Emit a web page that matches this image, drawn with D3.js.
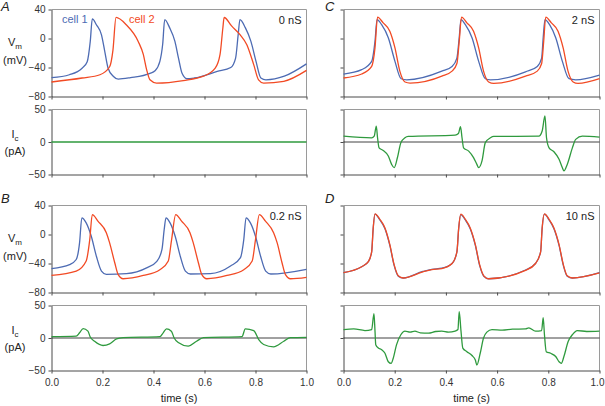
<!DOCTYPE html>
<html><head><meta charset="utf-8">
<script src="https://cdn.jsdelivr.net/npm/d3@7"></script>
<style>body{margin:0;background:#fff} svg text{font-family:"Liberation Sans",Arial,sans-serif}</style>
</head><body><svg id="c" width="605" height="406"></svg>
<script>
// ---- data (time in s, Vm in mV, Ic in pA) ----
const timeTicks = [0, 0.2, 0.4, 0.6, 0.8, 1.0];
const vmTicks = [-80, -40, 0, 40];
const icTicks = [-50, 0, 50];
const panelLetters = ["A", "B", "C", "D"];
const conductances = ["0 nS", "0.2 nS", "2 nS", "10 nS"];
const cellNames = ["cell 1", "cell 2"];

const vmA1 = [[0,-54],[0.07,-50],[0.12,-41],[0.14,-32],[0.152,-4],[0.16,27],[0.176,19],[0.196,5],[0.209,-18],[0.222,-41],[0.242,-52],[0.262,-56],[0.31,-54],[0.386,-48],[0.406,-44.5],[0.425,-31.5],[0.436,-8],[0.444,26],[0.463,15],[0.484,-4],[0.498,-27],[0.512,-48],[0.531,-55.5],[0.56,-54.5],[0.65,-45.5],[0.703,-40],[0.722,-27],[0.732,5],[0.739,26],[0.76,15],[0.782,-4],[0.802,-31.5],[0.821,-54.5],[0.841,-57],[0.913,-52],[1.0,-35]];
const vmA2 = [[0,-60],[0.12,-54.5],[0.19,-50],[0.228,-39],[0.241,-16],[0.253,29],[0.293,19],[0.34,-4],[0.36,-22],[0.373,-43],[0.386,-57],[0.412,-61.5],[0.517,-58],[0.596,-52],[0.642,-41],[0.661,-22],[0.672,14.5],[0.677,29],[0.707,17],[0.74,5],[0.766,-8.5],[0.793,-36],[0.812,-57],[0.832,-61.5],[0.911,-59],[1.0,-44]];
const icA = [[0,0],[0.25,0],[0.5,0],[0.75,0],[1.0,0]];

const vmB1 = [[0,-47],[0.071,-41.5],[0.097,-34.5],[0.11,-11.5],[0.119,23],[0.136,16],[0.156,-2.5],[0.176,-30],[0.196,-50.5],[0.215,-55],[0.294,-54],[0.373,-46],[0.413,-37],[0.433,-21],[0.442,7],[0.449,23],[0.465,16],[0.485,-2.5],[0.505,-30],[0.525,-50.5],[0.545,-54.5],[0.623,-54],[0.702,-43.5],[0.741,-32],[0.754,-7],[0.763,23],[0.78,16],[0.8,-2.5],[0.82,-30],[0.84,-50.5],[0.86,-54.5],[1.0,-48]];
const vmB2 = [[0,-56.5],[0.097,-50.5],[0.136,-36.5],[0.15,-7],[0.16,27.5],[0.182,18.5],[0.215,2.5],[0.228,-11.5],[0.248,-39],[0.261,-55],[0.281,-61],[0.36,-56.5],[0.425,-48.5],[0.458,-36.5],[0.471,-7],[0.487,27.5],[0.51,18.5],[0.543,2.5],[0.556,-11.5],[0.576,-39],[0.589,-55],[0.609,-61],[0.688,-56.5],[0.754,-48.5],[0.787,-36.5],[0.8,-7],[0.815,27.5],[0.839,18.5],[0.871,2.5],[0.885,-11.5],[0.904,-39],[0.917,-55],[0.937,-61],[1.0,-59]];
const icB = [[0,2],[0.097,2.8],[0.11,8],[0.124,14.5],[0.143,10.5],[0.152,1.5],[0.169,-5],[0.202,-11.5],[0.228,-9],[0.255,-1.5],[0.281,0.5],[0.425,2],[0.438,8],[0.451,14],[0.47,10.5],[0.481,0],[0.497,-7],[0.536,-12.5],[0.569,-5],[0.596,0.5],[0.747,2],[0.76,14],[0.793,11.5],[0.812,-2],[0.832,-10],[0.871,-13.5],[0.911,-5],[0.937,0.5],[1.0,1]];

const vmC1 = [[0,-49],[0.071,-43],[0.11,-31.5],[0.123,-4],[0.131,26],[0.149,19],[0.175,1],[0.201,-31.5],[0.225,-55.5],[0.247,-57],[0.384,-45],[0.424,-38.5],[0.443,-27],[0.452,1],[0.459,26],[0.476,19],[0.502,1],[0.528,-31.5],[0.554,-55.5],[0.574,-57],[0.711,-46],[0.757,-38.5],[0.774,-27],[0.78,1],[0.787,26],[0.805,19],[0.829,1],[0.855,-31.5],[0.881,-55.5],[0.907,-57],[1.0,-50.5]];
const vmC2 = [[0,-54.5],[0.071,-49],[0.11,-38.5],[0.123,-13],[0.133,29.5],[0.155,21.5],[0.181,10],[0.201,-13],[0.22,-45],[0.24,-60],[0.26,-61.5],[0.384,-52],[0.424,-45],[0.443,-34.5],[0.452,-4],[0.461,29.5],[0.482,21.5],[0.508,10],[0.528,-13],[0.547,-45],[0.567,-60],[0.587,-62],[0.711,-52],[0.757,-45],[0.774,-34.5],[0.782,-4],[0.79,29.5],[0.812,21.5],[0.838,10],[0.858,-13],[0.877,-45],[0.897,-60],[0.916,-62],[1.0,-55.5]];
const icC = [[0,9],[0.11,6.5],[0.12,9],[0.128,24.5],[0.133,6.5],[0.139,-9],[0.155,-13],[0.175,-21.5],[0.188,-34.5],[0.198,-39.5],[0.211,-23.5],[0.224,-1],[0.24,6.5],[0.253,8.5],[0.436,10.5],[0.449,13],[0.457,23.5],[0.463,6.5],[0.469,-9],[0.489,-14],[0.508,-24],[0.521,-34.5],[0.528,-39.5],[0.541,-29],[0.554,-1],[0.574,6.5],[0.587,8.5],[0.763,9],[0.776,17],[0.787,40],[0.793,6.5],[0.803,-9],[0.822,-15],[0.842,-26.5],[0.855,-39.5],[0.861,-44.5],[0.874,-34.5],[0.894,-9],[0.907,4],[0.933,9],[1.0,7.5]];

const vmD1 = [[0,-52.5],[0.071,-44.5],[0.097,-37.5],[0.11,-24],[0.116,8.5],[0.123,28],[0.142,20],[0.162,8],[0.181,-15],[0.198,-43],[0.214,-57.5],[0.233,-60],[0.31,-51],[0.345,-48],[0.384,-46.5],[0.424,-40],[0.443,-24],[0.45,8.5],[0.458,27.5],[0.476,20],[0.495,8],[0.515,-15],[0.532,-43],[0.548,-57.5],[0.567,-61],[0.711,-49],[0.75,-40],[0.77,-24],[0.776,8.5],[0.785,28],[0.803,20],[0.822,8],[0.842,-15],[0.859,-43],[0.874,-57.5],[0.894,-60],[1.0,-52.5]];
const vmD2 = [[0,-52.5],[0.071,-44.5],[0.097,-37.5],[0.11,-24],[0.116,9],[0.123,28.5],[0.142,21],[0.162,9],[0.181,-14],[0.198,-42],[0.214,-57],[0.233,-60],[0.31,-51.5],[0.345,-48.5],[0.384,-47],[0.424,-40],[0.443,-24],[0.45,9],[0.458,28],[0.476,21],[0.495,9],[0.515,-14],[0.532,-42],[0.548,-57],[0.567,-61],[0.711,-49.5],[0.75,-40],[0.77,-24],[0.776,9],[0.785,28.5],[0.803,21],[0.822,9],[0.842,-14],[0.859,-42],[0.874,-57],[0.894,-60],[1.0,-53]];
const icD = [[0,13],[0.04,14],[0.084,11.5],[0.11,13],[0.119,37.5],[0.123,11],[0.126,-10.5],[0.136,-15.5],[0.149,-18],[0.162,-23.5],[0.175,-36.5],[0.186,-39],[0.194,-31.5],[0.207,-10.5],[0.224,5],[0.24,10.5],[0.26,9],[0.279,10.5],[0.3,8],[0.332,7.5],[0.36,10],[0.384,10.5],[0.41,9],[0.436,10.5],[0.447,13],[0.452,40.5],[0.459,10.5],[0.466,-15.5],[0.482,-21],[0.502,-27],[0.515,-34],[0.521,-41.5],[0.534,-23.5],[0.547,0],[0.56,9],[0.58,13],[0.62,12],[0.66,13.5],[0.711,14],[0.724,15.5],[0.75,10.5],[0.774,11.5],[0.78,31.5],[0.785,5],[0.792,-21],[0.809,-23.5],[0.829,-28.5],[0.842,-36.5],[0.851,-39],[0.861,-28.5],[0.878,-5],[0.894,5],[0.913,11.5],[0.95,10],[1.0,10.5]];

// ---- layout / style ----
const C_BLUE = "#4d6bb3", C_RED = "#f24a24", C_GREEN = "#2f9a3e";
const AXIS = "#4a4a4a", BOX = "#9a9a9a", TXT = "#333";
const cols = [[51.5, 306.5], [343.5, 599.5]];
const rows = [{vm: [9.5, 96.5], ic: [109.5, 174.5]}, {vm: [205.5, 292.5], ic: [305.5, 370.5]}];
const panels = [
  {col: 0, row: 0, v1: vmA1, v2: vmA2, ic: icA, zero: false},
  {col: 0, row: 1, v1: vmB1, v2: vmB2, ic: icB, zero: true},
  {col: 1, row: 0, v1: vmC1, v2: vmC2, ic: icC, zero: true},
  {col: 1, row: 1, v1: vmD1, v2: vmD2, ic: icD, zero: true}
];

const svg = d3.select("#c");

function frame(g, x, y, yTicks, showY, showX, lastShift) {
  const [x0, x1] = x.range();
  const [yb, yt] = y.range();
  g.append("line").attr("x1", x0).attr("x2", x1).attr("y1", yt).attr("y2", yt).attr("stroke", BOX);
  g.append("line").attr("x1", x1).attr("x2", x1).attr("y1", yt).attr("y2", yb).attr("stroke", BOX);
  const ya = g.append("g").attr("transform", `translate(${x0},0)`)
    .call(d3.axisLeft(y).tickValues(yTicks).tickSize(3).tickSizeOuter(0).tickPadding(3)
      .tickFormat(showY ? d3.format("d") : () => ""));
  const xa = g.append("g").attr("transform", `translate(0,${yb})`)
    .call(d3.axisBottom(x).tickValues(timeTicks).tickSize(3).tickSizeOuter(0).tickPadding(5)
      .tickFormat(showX ? d3.format(".1f") : () => ""));
  [ya, xa].forEach(a => {
    a.select(".domain").attr("stroke", AXIS);
    a.selectAll(".tick line").attr("stroke", AXIS);
    a.selectAll("text").attr("fill", TXT).style("font-size", "10px")
      .style("font-family", '"Liberation Sans", Arial, sans-serif');
  });
  if (lastShift) xa.selectAll(".tick").filter(d => d === 1).select("text").attr("dx", lastShift);
}

panels.forEach((p, i) => {
  const [xl, xr] = cols[p.col];
  const r = rows[p.row];
  const x = d3.scaleLinear().domain([0, 1]).range([xl, xr]);
  const yv = d3.scaleLinear().domain([-80, 40]).range([r.vm[1], r.vm[0]]);
  const yi = d3.scaleLinear().domain([-50, 50]).range([r.ic[1], r.ic[0]]);
  const g = svg.append("g");
  const left = p.col === 0;

  frame(g, x, yv, vmTicks, left, false, 0);
  frame(g, x, yi, icTicks, left, p.row === 1, left ? 0 : -2.5);

  const lv = d3.line().x(d => x(d[0])).y(d => yv(d[1])).curve(d3.curveMonotoneX);
  const li = d3.line().x(d => x(d[0])).y(d => yi(d[1])).curve(d3.curveMonotoneX);

  g.append("path").attr("d", lv(p.v1)).attr("fill", "none").attr("stroke", C_BLUE).attr("stroke-width", 1.3);
  g.append("path").attr("d", lv(p.v2)).attr("fill", "none").attr("stroke", C_RED).attr("stroke-width", 1.3);
  if (p.zero) {
    g.append("line").attr("x1", xl).attr("x2", xr).attr("y1", yi(0)).attr("y2", yi(0))
      .attr("stroke", "#111").attr("stroke-width", 0.8);
  }
  g.append("path").attr("d", li(p.ic)).attr("fill", "none").attr("stroke", C_GREEN).attr("stroke-width", 1.3);

  // panel letter
  g.append("text").attr("x", left ? 1 : 325).attr("y", r.vm[0] + (p.row === 0 ? 1 : -2.5))
    .attr("font-size", 13).attr("font-style", "italic").attr("fill", "#222").text(panelLetters[i]);
  // conductance label
  g.append("text").attr("x", xr - 5).attr("y", r.vm[0] + 14).attr("text-anchor", "end")
    .attr("font-size", 11).attr("fill", "#222").text(conductances[i]);

  if (left) {
    const vl = g.append("text").attr("x", 15).attr("y", r.vm[0] + 36.5).attr("text-anchor", "middle")
      .attr("font-size", 11).attr("fill", "#222");
    vl.append("tspan").text("V");
    vl.append("tspan").attr("font-size", 8).attr("dy", 2.5).text("m");
    g.append("text").attr("x", 15).attr("y", r.vm[0] + 54.5).attr("text-anchor", "middle")
      .attr("font-size", 11).attr("fill", "#222").text("(mV)");
    const il = g.append("text").attr("x", 15).attr("y", r.ic[0] + 28.5).attr("text-anchor", "middle")
      .attr("font-size", 11).attr("fill", "#222");
    il.append("tspan").text("I");
    il.append("tspan").attr("font-size", 8).attr("dy", 2.5).text("c");
    g.append("text").attr("x", 15).attr("y", r.ic[0] + 45).attr("text-anchor", "middle")
      .attr("font-size", 11).attr("fill", "#222").text("(pA)");
  }
  if (p.row === 1) {
    g.append("text").attr("x", (xl + xr) / 2).attr("y", 402).attr("text-anchor", "middle")
      .attr("font-size", 11).attr("fill", "#222").text("time (s)");
  }
  if (i === 0) {
    g.append("text").attr("x", 62).attr("y", r.vm[0] + 13.5).attr("font-size", 11)
      .attr("fill", C_BLUE).text(cellNames[0]);
    g.append("text").attr("x", 129).attr("y", r.vm[0] + 13.5).attr("font-size", 11)
      .attr("fill", C_RED).text(cellNames[1]);
  }
});
</script></body></html>
